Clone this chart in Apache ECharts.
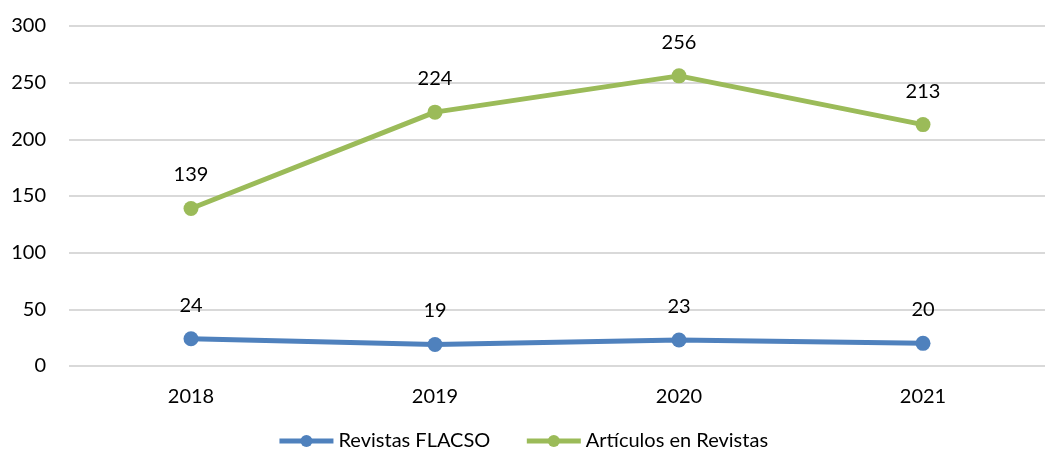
<!DOCTYPE html>
<html>
<head>
<meta charset="utf-8">
<style>
  html, body { margin: 0; padding: 0; background: #fff; }
  #chart { width: 1045px; height: 459px; }
</style>
<script src="https://cdn.jsdelivr.net/npm/echarts@6/dist/echarts.min.js"></script>
</head>
<body>
<div id="chart"></div>
<script>
const years = ['2018', '2019', '2020', '2021']
const revistasFlacso = [24, 19, 23, 20]
const articulosRevistas = [139, 224, 256, 213]
const yTicks = { min: 0, max: 300, interval: 50 }

const font = 'Lato, "Open Sans", sans-serif'

const chart = echarts.init(document.getElementById('chart'))

const labelStyle = {
  show: true,
  position: 'top',
  distance: 16,
  color: '#000',
  fontSize: 20,
  fontFamily: font,
}

chart.setOption({
  animation: false,
  textStyle: { fontFamily: font },
  grid: { left: 69, top: 26, width: 987, bottom: 93 },
  legend: {
    bottom: 3,
    left: 'center',
    itemWidth: 54,
    itemHeight: 15,
    itemGap: 34,
    lineStyle: { width: 5 },
    textStyle: { fontSize: 20, color: '#000', fontFamily: font },
    data: ['Revistas FLACSO', 'Artículos en Revistas'],
  },
  xAxis: {
    type: 'category',
    data: years,
    axisLine: { show: false },
    axisTick: { show: false },
    axisLabel: { fontSize: 20, color: '#000', margin: 21, fontFamily: font },
  },
  yAxis: {
    type: 'value',
    min: yTicks.min,
    max: yTicks.max,
    interval: yTicks.interval,
    axisLine: { show: false },
    axisTick: { show: false },
    axisLabel: { fontSize: 20, color: '#000', margin: 23, fontFamily: font },
    splitLine: { lineStyle: { color: '#d9d9d9', width: 2 } },
  },
  series: [
    {
      name: 'Revistas FLACSO',
      type: 'line',
      data: revistasFlacso,
      symbol: 'circle',
      symbolSize: 15,
      lineStyle: { width: 5, color: '#4F81BD' },
      itemStyle: { color: '#4F81BD' },
      label: labelStyle,
    },
    {
      name: 'Artículos en Revistas',
      type: 'line',
      data: articulosRevistas,
      symbol: 'circle',
      symbolSize: 15,
      lineStyle: { width: 5, color: '#9BBB59' },
      itemStyle: { color: '#9BBB59' },
      label: labelStyle,
    },
  ],
})

window.addEventListener('resize', () => {
  chart.resize()
})
</script>
</body>
</html>
